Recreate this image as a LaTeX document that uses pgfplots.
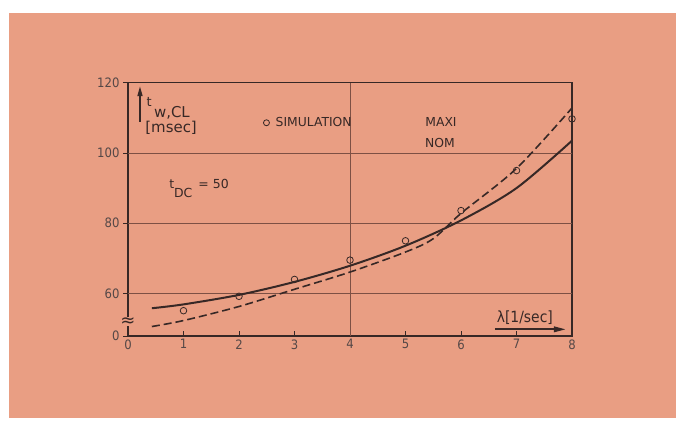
\documentclass[border=0pt]{standalone}
\usepackage{fontspec}
\setmainfont{DejaVu Sans}
\newfontfamily\condfont{DejaVu Sans Condensed}
\usepackage{pgfplots}
\pgfplotsset{compat=1.18}
\usetikzlibrary{arrows.meta}
\definecolor{bgs}{RGB}{233,158,131}
\definecolor{ink}{RGB}{55,40,38}
\definecolor{gridc}{RGB}{125,80,68}
\begin{document}
\begin{tikzpicture}[x=1bp,y=1bp]
\fill[white] (0,0) rectangle (680,421);
\fill[bgs] (9,3) rectangle (676,408);
\begin{axis}[
  at={(128bp,85bp)}, anchor=south west, scale only axis,
  width=444bp, height=253.3bp,
  xmin=0, xmax=8, ymin=47.9, ymax=120,
  axis line style={ink, line width=1.3bp},
  xtick={0,1,2,3,4,5,6,7,8}, xticklabels={0,1,2,3,4,5,6,7,8},
  ytick={47.9,60,80,100,120}, yticklabels={0,60,80,100,120},
  xtick pos=bottom, ytick pos=left,
  xtick align=inside, ytick align=outside,
  major tick length=5bp,
  tick style={ink, line width=0.8bp},
  tick label style={font=\condfont\fontsize{13}{13}\selectfont, text=ink!85},
  clip=false,
  legend style={at={(axis cs:2.43,108.6)}, anchor=west, draw=none, fill=none,
    font=\fontsize{12.4}{12.4}\selectfont, text=ink, inner sep=0pt,
    nodes={inner sep=1bp}},
  legend image code/.code={\draw[ink, line width=0.8bp] (3bp,0) circle (3bp); \path (11bp,0);},
]
% grid lines
\draw[gridc, line width=0.8bp] (axis cs:0,60) -- (axis cs:8,60);
\draw[gridc, line width=0.8bp] (axis cs:0,80) -- (axis cs:8,80);
\draw[gridc, line width=0.8bp] (axis cs:0,100) -- (axis cs:8,100);
\draw[gridc, line width=0.8bp] (axis cs:4,47.9) -- (axis cs:4,120);

\addplot[ink, line width=2bp, smooth, forget plot] coordinates {
 (0.43,55.8) (1,56.9) (2,59.6) (3,63.3) (4,67.9) (5,73.6) (6,80.8) (7,90.0) (8,103.5)};
\addplot[ink, line width=1.6bp, dash pattern=on 8bp off 4bp, smooth, forget plot] coordinates {
 (0.43,50.6) (1,52.3) (2,56.3) (3,61.2) (4,66.1) (5,71.8) (5.5,75.6) (6,82.8) (7,95.6) (8,112.8)};
\addplot[only marks, mark=o, mark size=3.3bp, mark options={ink, line width=0.8bp}] coordinates {
 (1,55.1) (2,59.2) (3,64.0) (4,69.5) (5,75.0) (6,83.6) (7,95.0) (8,109.7)};
\addlegendentry{SIMULATION}

% y label with arrow
\draw[ink, line width=1.6bp, -{Triangle[length=10bp,width=5bp]}] (axis cs:0.216,108.9) -- (axis cs:0.216,119);
\node[anchor=base west, inner sep=0pt, text=ink] at (axis cs:0.33,110.1)
  {\fontsize{15}{15}\selectfont\raisebox{10.5bp}{\fontsize{13}{13}\selectfont t}\,w,CL};
\node[anchor=west, inner sep=0pt, text=ink] at (axis cs:0.31,107.1)
  {\fontsize{15}{15}\selectfont [msec]};
% t_DC
\node[anchor=base west, inner sep=0pt, text=ink] at (axis cs:0.74,90.0)
  {\fontsize{12.5}{12.5}\selectfont t\raisebox{-9bp}{DC}\ \,= 50};
% MAXI NOM
\node[text=ink, inner sep=0pt] at (axis cs:5.64,108.9) {\fontsize{12.4}{12.4}\selectfont MAXI};
\node[text=ink, inner sep=0pt] at (axis cs:5.62,102.8) {\fontsize{12.4}{12.4}\selectfont NOM};
% lambda label
\node[text=ink, inner sep=0pt] at (axis cs:7.15,53.0) {\condfont\fontsize{15.5}{15.5}\selectfont λ[1/sec]};
\draw[ink, line width=2bp, -{Triangle[length=12bp,width=5.5bp]}] (axis cs:6.61,49.8) -- (axis cs:7.89,49.8);
% axis break
\node[text=ink, inner sep=0pt, fill=bgs] at (axis cs:0,52.0) {\fontsize{18}{18}\selectfont ≈};
\end{axis}
\pgfresetboundingbox
\useasboundingbox (0,0) rectangle (680,421);
\end{tikzpicture}
\end{document}
